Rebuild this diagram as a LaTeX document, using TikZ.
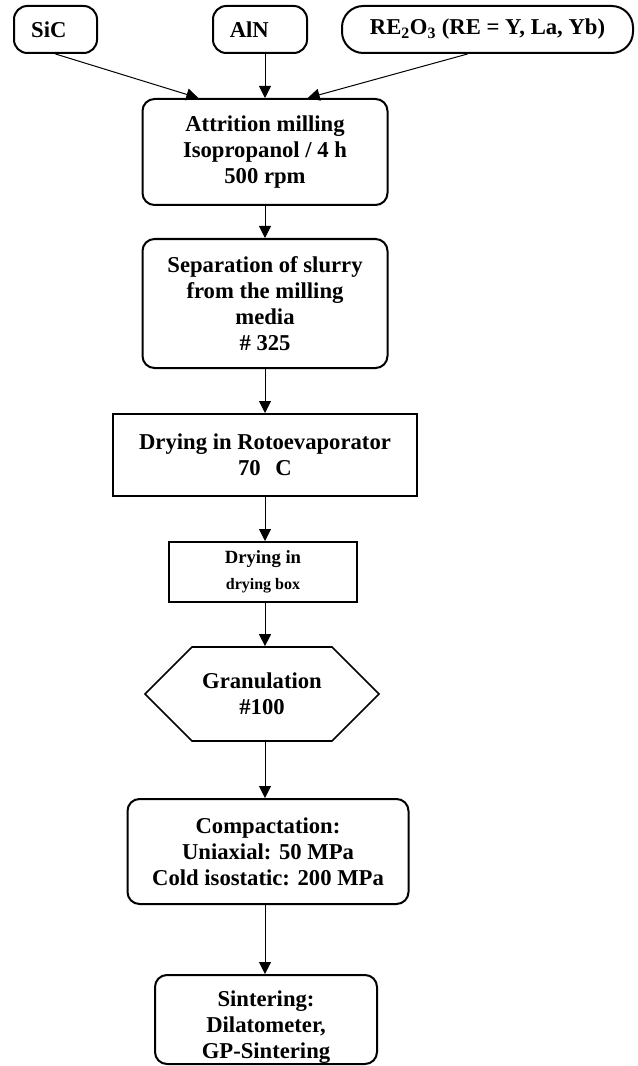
\documentclass[tikz,border=0pt]{standalone}
\usepackage{fontspec}
\setmainfont{Liberation Serif}
\usetikzlibrary{arrows.meta,positioning,shapes.symbols}

\begin{document}
\begin{tikzpicture}[
  x=0.75pt,y=-0.75pt,
  font=\bfseries\fontsize{17}{19.5}\selectfont,
  >={Triangle[length=9pt,width=9pt]},
  inbox/.style={draw, line width=1.5pt, rounded corners=10pt, align=center, inner sep=0pt, minimum height=35.25pt},
  pbox/.style={draw, line width=1.5pt, rounded corners=9pt, align=center, inner sep=0pt},
  sbox/.style={draw, line width=1.5pt, align=center, inner sep=0pt},
  hexa/.style={draw, line width=1.3pt, signal, signal to=east and west, signal pointer angle=90, align=center, inner sep=0pt},
  flow/.style={->, line width=0.75pt},
]
\useasboundingbox (0,0) rectangle (637,1066);
% starting powders
\node[inbox, minimum width=62.25pt] (sic) at (55.5,29.5) {SiC\hspace*{10pt}};
\node[inbox, minimum width=70.5pt] (aln) at (260,29.5) {AlN\hspace*{16pt}};
\node[inbox, rounded corners=16pt, minimum width=218.25pt] (reo) at (487.5,29.5) {RE\textsubscript{2}O\textsubscript{3} (RE = Y, La, Yb)};
% processing steps
\node[pbox, minimum width=183.75pt, minimum height=79.5pt] (attr) at (265,152) {Attrition milling\\Isopropanol / 4 h\\500 rpm};
\node[pbox, minimum width=183.75pt, minimum height=96.75pt] (sep) at (265,303.5) {Separation of slurry\\from the milling\\media\\\# 325};
\node[sbox, minimum width=228pt, minimum height=61.5pt] (roto) at (265,455) {Drying in Rotoevaporator\\70\hspace{11pt}C};
\node[sbox, minimum width=141pt, minimum height=45pt] (dbox) at (263,572) {\fontsize{14}{15}\selectfont Drying in\\\fontsize{12}{15}\selectfont drying box};
\node[hexa, minimum width=175.5pt, minimum height=70.5pt] (gran) at (262,694) {Granulation\\\#100};
\node[pbox, minimum width=210.75pt, minimum height=78.75pt] (comp) at (268,851.5) {Compactation:\\Uniaxial: 50 MPa\\Cold isostatic: 200 MPa};
\node[pbox, minimum width=166.5pt, minimum height=66.75pt] (sint) at (266,1019.5) {\rule{0pt}{23pt}Sintering:\\Dilatometer,\\GP-Sintering};
% connectors
\draw[flow] (sic.south) -- ([xshift=-50pt]attr.north);
\draw[flow] (aln.south -| attr) -- (attr.north);
\draw[flow] ([xshift=-15pt]reo.south) -- ([xshift=32pt]attr.north);
\draw[flow] (attr.south) -- (attr.south |- sep.north);
\draw[flow] (sep.south) -- (sep.south |- roto.north);
\draw[flow] (roto.south -| sep) -- (sep |- dbox.north);
\draw[flow] (dbox.south -| sep) -- (sep |- gran.north);
\draw[flow] (gran.south -| sep) -- (sep |- comp.north);
\draw[flow] (comp.south -| sep) -- (sep |- sint.north);
\end{tikzpicture}
\end{document}
